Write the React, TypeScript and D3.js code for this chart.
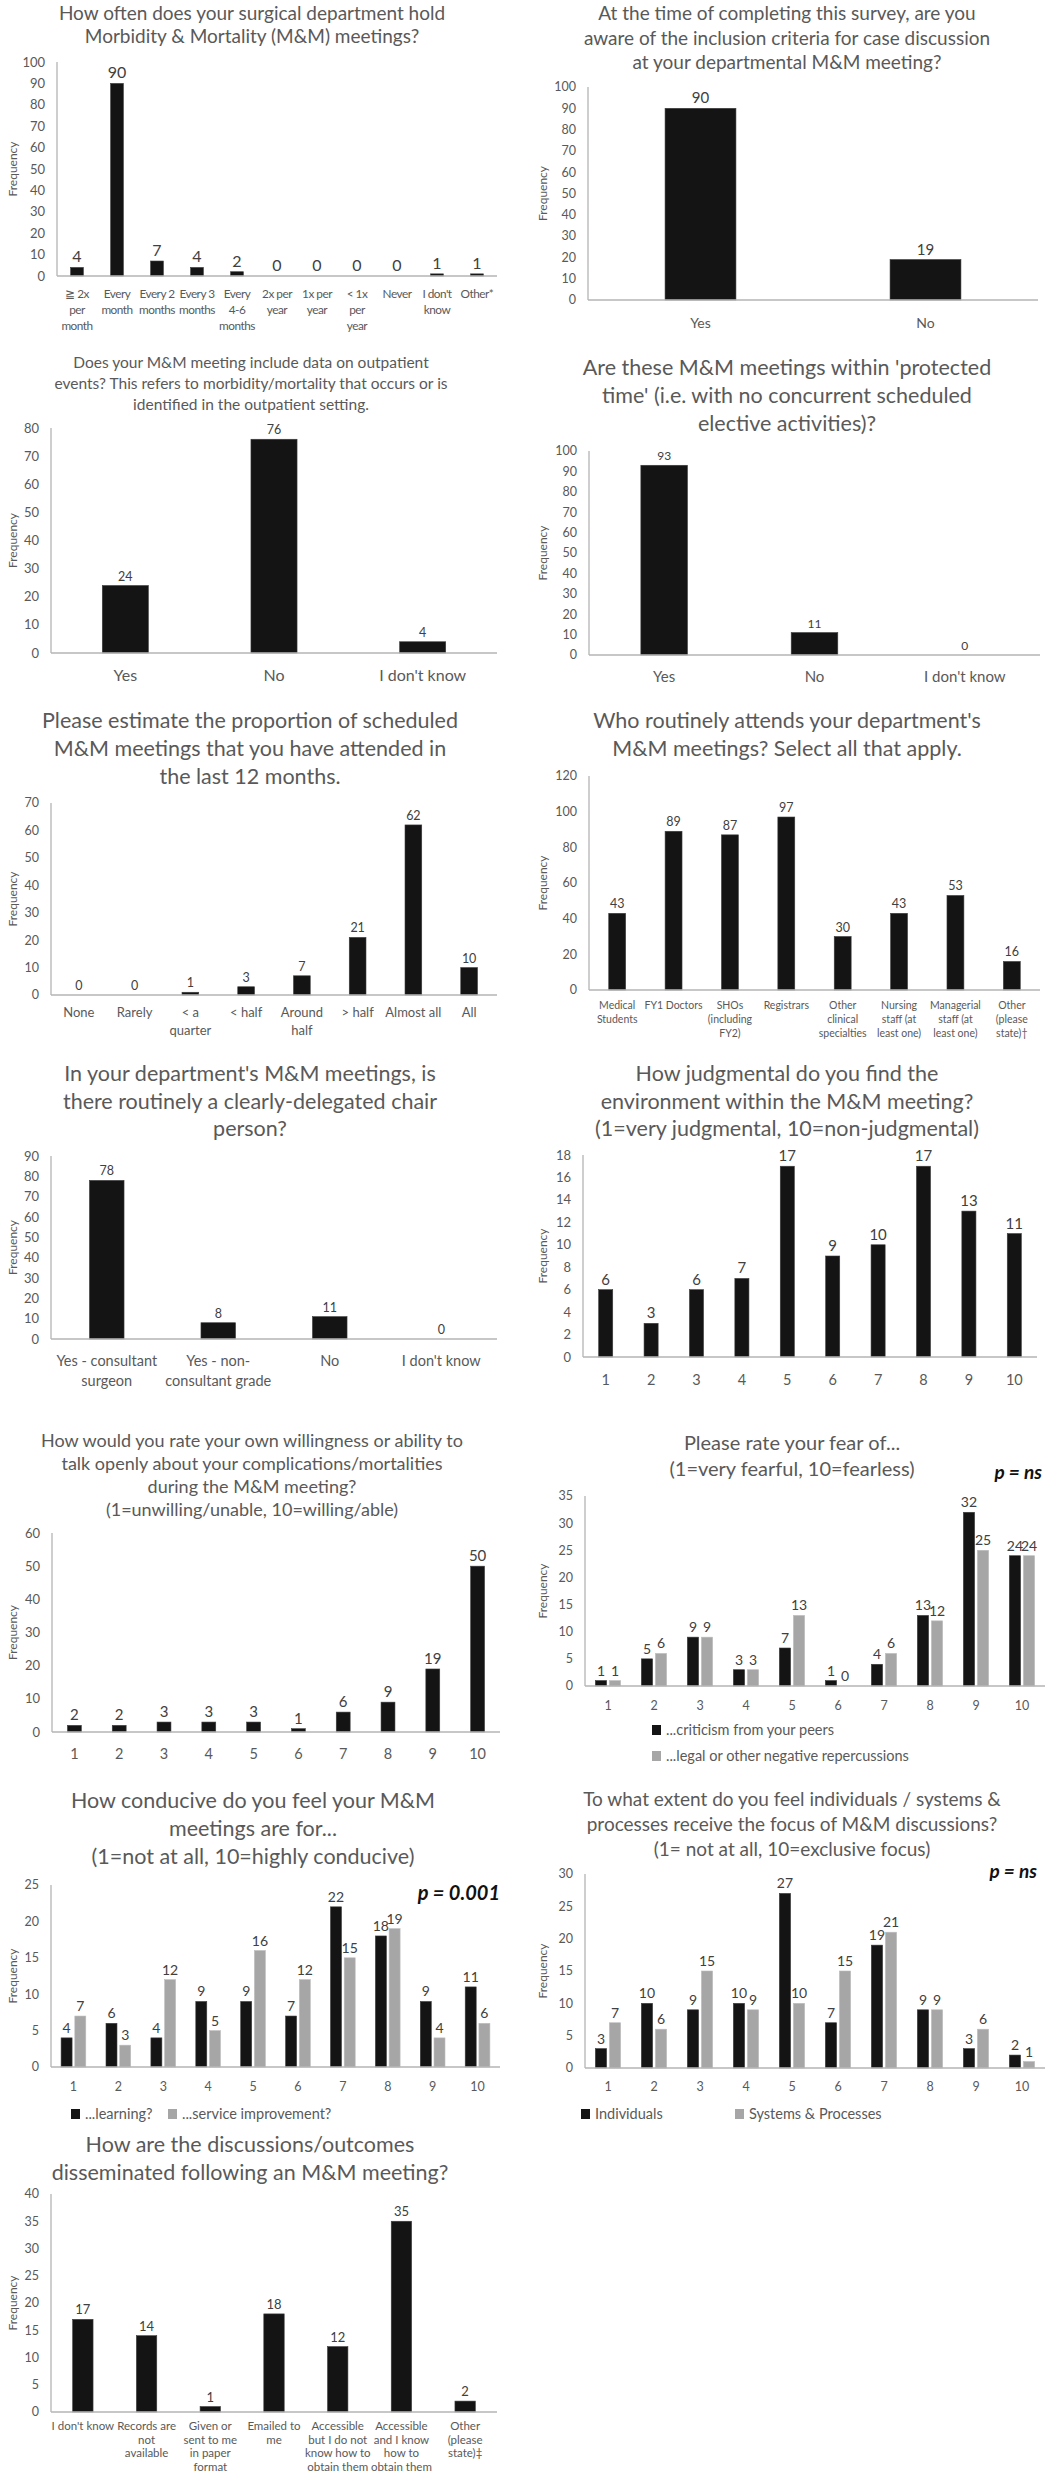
import React from "react";
import * as d3 from "d3";

const FONT = "Lato, 'Open Sans', sans-serif";
const TXT = "#595959";
const VAL = "#404040";
const AXIS = "#b4b4b4";
const BLACK = "#141414";
const GREY = "#a6a6a6";

// ---- data ----
const q1Categories = ["≧ 2x\nper\nmonth", "Every\nmonth", "Every 2\nmonths", "Every 3\nmonths", "Every\n4-6\nmonths", "2x per\nyear", "1x per\nyear", "< 1x\nper\nyear", "Never", "I don't\nknow", "Other*"];
const q1Values = [4, 90, 7, 4, 2, 0, 0, 0, 0, 1, 1];

const q2Categories = ["Yes", "No"];
const q2Values = [90, 19];

const q3Categories = ["Yes", "No", "I don't know"];
const q3Values = [24, 76, 4];

const q4Categories = ["Yes", "No", "I don't know"];
const q4Values = [93, 11, 0];

const q5Categories = ["None", "Rarely", "< a\nquarter", "< half", "Around\nhalf", "> half", "Almost all", "All"];
const q5Values = [0, 0, 1, 3, 7, 21, 62, 10];

const q6Categories = ["Medical\nStudents", "FY1 Doctors", "SHOs\n(including\nFY2)", "Registrars", "Other\nclinical\nspecialties", "Nursing\nstaff (at\nleast one)", "Managerial\nstaff (at\nleast one)", "Other\n(please\nstate)†"];
const q6Values = [43, 89, 87, 97, 30, 43, 53, 16];

const q7Categories = ["Yes - consultant\nsurgeon", "Yes - non-\nconsultant grade", "No", "I don't know"];
const q7Values = [78, 8, 11, 0];

const scale10 = ["1", "2", "3", "4", "5", "6", "7", "8", "9", "10"];
const q8Values = [6, 3, 6, 7, 17, 9, 10, 17, 13, 11];
const q9Values = [2, 2, 3, 3, 3, 1, 6, 9, 19, 50];

const fearPeers = [1, 5, 9, 3, 7, 1, 4, 13, 32, 24];
const fearLegal = [1, 6, 9, 3, 13, 0, 6, 12, 25, 24];
const fearNames = ["...criticism from your peers", "...legal or other negative repercussions"];

const conduciveLearning = [4, 6, 4, 9, 9, 7, 22, 18, 9, 11];
const conduciveService = [7, 3, 12, 5, 16, 12, 15, 19, 4, 6];
const conduciveNames = ["...learning?", "...service improvement?"];

const focusIndividuals = [3, 10, 9, 10, 27, 7, 19, 9, 3, 2];
const focusSystems = [7, 6, 15, 9, 10, 15, 21, 9, 6, 1];
const focusNames = ["Individuals", "Systems & Processes"];

const q13Categories = ["I don't know", "Records are\nnot\navailable", "Given or\nsent to me\nin paper\nformat", "Emailed to\nme", "Accessible\nbut I do not\nknow how to\nobtain them", "Accessible\nand I know\nhow to\nobtain them", "Other\n(please\nstate)‡"];
const q13Values = [17, 14, 1, 18, 12, 35, 2];

type Legend = { orient: "v" | "h"; xs: number[]; ys: number[]; size: number };
type Cfg = {
  left: number;
  title: string[]; tx: number; ty: number; tSize: number; tLH: number;
  x0: number; x1: number; yTop: number; yBottom: number; max: number; step: number;
  categories: string[]; series: number[][]; names?: string[];
  group: number; catY: number; catLH: number; catSize: number; valSize: number; tickSize: number;
  catSpacing?: number;
  legend?: Legend; pText?: { text: string; x: number; y: number; size: number };
};

const colors = [BLACK, GREY];

function Panel(p: Cfg) {
  const y = d3.scaleLinear().domain([0, p.max]).range([p.yBottom, p.yTop]);
  const x = d3.scaleBand<string>().domain(p.categories).range([p.x0, p.x1]);
  const bw = x.bandwidth();
  const keys = p.series.map((_, i) => String(i));
  const sub = d3.scaleBand<string>().domain(keys)
    .range([-bw * p.group / 2, bw * p.group / 2])
    .paddingInner(p.series.length > 1 ? 0.2 : 0);
  const ticks = d3.range(0, p.max + p.step / 2, p.step);
  return (
    <g>
      {p.title.map((t, i) => (
        <text key={i} x={p.tx} y={p.ty + i * p.tLH} textAnchor="middle" fontSize={p.tSize} fill={TXT}>{t}</text>
      ))}
      {p.pText && (
        <text x={p.pText.x} y={p.pText.y} textAnchor="end" fontSize={p.pText.size} fontStyle="italic" fontWeight="bold" fill="#111">{p.pText.text}</text>
      )}
      <text transform={`translate(${p.left + 17},${(p.yTop + p.yBottom) / 2}) rotate(-90)`} textAnchor="middle" fontSize={12} fill={TXT}>Frequency</text>
      {ticks.map((t) => (
        <text key={t} x={p.x0 - 12} y={y(t)} dy="0.35em" textAnchor="end" fontSize={p.tickSize} fill={TXT}>{t}</text>
      ))}
      {p.series.map((vals, si) =>
        p.categories.map((c, ci) => {
          const v = vals[ci];
          const cx = (x(c) as number) + bw / 2 + (sub(String(si)) as number);
          return (
            <g key={`${si}-${ci}`}>
              {v > 0 && (
                <rect x={cx} y={y(v)} width={sub.bandwidth()} height={p.yBottom - y(v)} fill={colors[si]} stroke={si === 0 ? "#3c3c3c" : "#bdbdbd"} strokeWidth={0.6} />
              )}
              <text x={cx + sub.bandwidth() / 2} y={y(v) - 5} textAnchor="middle" fontSize={p.valSize} fill={VAL}>{v}</text>
            </g>
          );
        })
      )}
      <line x1={p.x0} x2={p.x0} y1={p.yTop} y2={p.yBottom} stroke={AXIS} strokeWidth={1.3} />
      <line x1={p.x0} x2={p.x1} y1={p.yBottom} y2={p.yBottom} stroke={AXIS} strokeWidth={1.3} />
      {p.categories.map((c) => (
        <text key={c} textAnchor="middle" fontSize={p.catSize} fill={TXT} letterSpacing={p.catSpacing ?? 0}>
          {c.split("\n").map((ln, i) => (
            <tspan key={i} x={(x(c) as number) + bw / 2} y={p.catY + i * p.catLH}>{ln}</tspan>
          ))}
        </text>
      ))}
      {p.legend && p.names && p.names.map((n, i) => {
        const lx = p.legend!.orient === "v" ? p.legend!.xs[0] : p.legend!.xs[i];
        const ly = p.legend!.orient === "v" ? p.legend!.ys[i] : p.legend!.ys[0];
        return (
          <g key={n}>
            <rect x={lx} y={ly - 5} width={9} height={10} fill={colors[i]} />
            <text x={lx + 14} y={ly} dy="0.35em" fontSize={p.legend!.size} fill={TXT}>{n}</text>
          </g>
        );
      })}
    </g>
  );
}

const panels: Cfg[] = [
  {
    left: 0, title: ["How often does your surgical department hold", "Morbidity & Mortality (M&M) meetings?"],
    tx: 252, ty: 20, tSize: 19, tLH: 23,
    x0: 57, x1: 497, yTop: 62, yBottom: 276, max: 100, step: 10,
    categories: q1Categories, series: [q1Values], group: 0.32,
    catY: 298, catLH: 16, catSize: 11.8, catSpacing: -0.5, valSize: 16, tickSize: 13,
  },
  {
    left: 530, title: ["At the time of completing this survey, are you", "aware of the inclusion criteria for case discussion", "at your departmental M&M meeting?"],
    tx: 787, ty: 20, tSize: 19, tLH: 24.5,
    x0: 588, x1: 1038, yTop: 87, yBottom: 300, max: 100, step: 10,
    categories: q2Categories, series: [q2Values], group: 0.315,
    catY: 328, catLH: 16, catSize: 14, valSize: 15, tickSize: 12.5,
  },
  {
    left: 0, title: ["Does your M&M meeting include data on outpatient", "events? This refers to morbidity/mortality that occurs or is", "identified in the outpatient setting."],
    tx: 251, ty: 368, tSize: 15.5, tLH: 21,
    x0: 51, x1: 497, yTop: 428, yBottom: 653, max: 80, step: 10,
    categories: q3Categories, series: [q3Values], group: 0.31,
    catY: 681, catLH: 16, catSize: 16, valSize: 12.5, tickSize: 13,
  },
  {
    left: 530, title: ["Are these M&M meetings within 'protected", "time' (i.e. with no concurrent scheduled", "elective activities)?"],
    tx: 787, ty: 375, tSize: 21.5, tLH: 28,
    x0: 589, x1: 1040, yTop: 451, yBottom: 655, max: 100, step: 10,
    categories: q4Categories, series: [q4Values], group: 0.31,
    catY: 682, catLH: 16, catSize: 15, valSize: 12, tickSize: 12.5,
  },
  {
    left: 0, title: ["Please estimate the proportion of scheduled", "M&M meetings that you have attended in", "the last 12 months."],
    tx: 250, ty: 728, tSize: 21.5, tLH: 28,
    x0: 51, x1: 497, yTop: 803, yBottom: 995, max: 70, step: 10,
    categories: q5Categories, series: [q5Values], group: 0.3,
    catY: 1017, catLH: 18, catSize: 13, valSize: 12.5, tickSize: 12.5,
  },
  {
    left: 530, title: ["Who routinely attends your department's", "M&M meetings? Select all that apply."],
    tx: 787, ty: 728, tSize: 21.5, tLH: 28,
    x0: 589, x1: 1040, yTop: 776, yBottom: 990, max: 120, step: 20,
    categories: q6Categories, series: [q6Values], group: 0.3,
    catY: 1009, catLH: 14, catSize: 10.5, valSize: 12.5, tickSize: 12.5,
  },
  {
    left: 0, title: ["In your department's M&M meetings, is", "there routinely a clearly-delegated chair", "person?"],
    tx: 250, ty: 1081, tSize: 21.5, tLH: 27.5,
    x0: 51, x1: 497, yTop: 1156, yBottom: 1339, max: 90, step: 10,
    categories: q7Categories, series: [q7Values], group: 0.31,
    catY: 1366, catLH: 20, catSize: 14.5, valSize: 12.5, tickSize: 13,
  },
  {
    left: 530, title: ["How judgmental do you find the", "environment within the M&M meeting?", "(1=very judgmental, 10=non-judgmental)"],
    tx: 787, ty: 1081, tSize: 21.5, tLH: 27.5,
    x0: 583, x1: 1037, yTop: 1155, yBottom: 1357, max: 18, step: 2,
    categories: scale10, series: [q8Values], group: 0.31,
    catY: 1385, catLH: 16, catSize: 14.5, valSize: 15, tickSize: 13,
  },
  {
    left: 0, title: ["How would you rate your own willingness or ability to", "talk openly about your complications/mortalities", "during the M&M meeting?", "(1=unwilling/unable, 10=willing/able)"],
    tx: 252, ty: 1447, tSize: 18, tLH: 23,
    x0: 52, x1: 500, yTop: 1533, yBottom: 1732, max: 60, step: 10,
    categories: scale10, series: [q9Values], group: 0.31,
    catY: 1759, catLH: 16, catSize: 14.5, valSize: 15, tickSize: 13,
  },
  {
    left: 530, title: ["Please rate your fear of...", "(1=very fearful, 10=fearless)"],
    tx: 792, ty: 1450, tSize: 20, tLH: 26,
    x0: 585, x1: 1045, yTop: 1496, yBottom: 1686, max: 35, step: 5,
    categories: scale10, series: [fearPeers, fearLegal], names: fearNames, group: 0.55,
    catY: 1710, catLH: 16, catSize: 12.5, valSize: 14, tickSize: 12.5,
    legend: { orient: "v", xs: [652], ys: [1730, 1756], size: 14.5 },
    pText: { text: "p = ns", x: 1042, y: 1479, size: 19 },
  },
  {
    left: 0, title: ["How conducive do you feel your M&M", "meetings are for...", "(1=not at all, 10=highly conducive)"],
    tx: 253, ty: 1808, tSize: 21.5, tLH: 28,
    x0: 51, x1: 500, yTop: 1885, yBottom: 2067, max: 25, step: 5,
    categories: scale10, series: [conduciveLearning, conduciveService], names: conduciveNames, group: 0.55,
    catY: 2091, catLH: 16, catSize: 12.5, valSize: 14, tickSize: 12.5,
    legend: { orient: "h", xs: [71, 168], ys: [2114], size: 14.5 },
    pText: { text: "p = 0.001", x: 500, y: 1900, size: 20 },
  },
  {
    left: 530, title: ["To what extent do you feel individuals / systems &", "processes receive the focus of M&M discussions?", "(1= not at all, 10=exclusive focus)"],
    tx: 792, ty: 1806, tSize: 19, tLH: 25,
    x0: 585, x1: 1045, yTop: 1874, yBottom: 2068, max: 30, step: 5,
    categories: scale10, series: [focusIndividuals, focusSystems], names: focusNames, group: 0.55,
    catY: 2091, catLH: 16, catSize: 12.5, valSize: 14, tickSize: 12.5,
    legend: { orient: "h", xs: [581, 735], ys: [2114], size: 14.5 },
    pText: { text: "p = ns", x: 1037, y: 1878, size: 19 },
  },
  {
    left: 0, title: ["How are the discussions/outcomes", "disseminated following an M&M meeting?"],
    tx: 250, ty: 2152, tSize: 21.5, tLH: 28,
    x0: 51, x1: 497, yTop: 2194, yBottom: 2412, max: 40, step: 5,
    categories: q13Categories, series: [q13Values], group: 0.32,
    catY: 2430, catLH: 13.5, catSize: 11.5, valSize: 13, tickSize: 12.5,
  },
];

export default function App() {
  return (
    <svg width={1061} height={2481} style={{ position: "absolute", left: 0, top: 0, background: "#fff" }} fontFamily={FONT}>
      <rect width={1061} height={2481} fill="#fff" />
      {panels.map((p, i) => (
        <Panel key={i} {...p} />
      ))}
    </svg>
  );
}
